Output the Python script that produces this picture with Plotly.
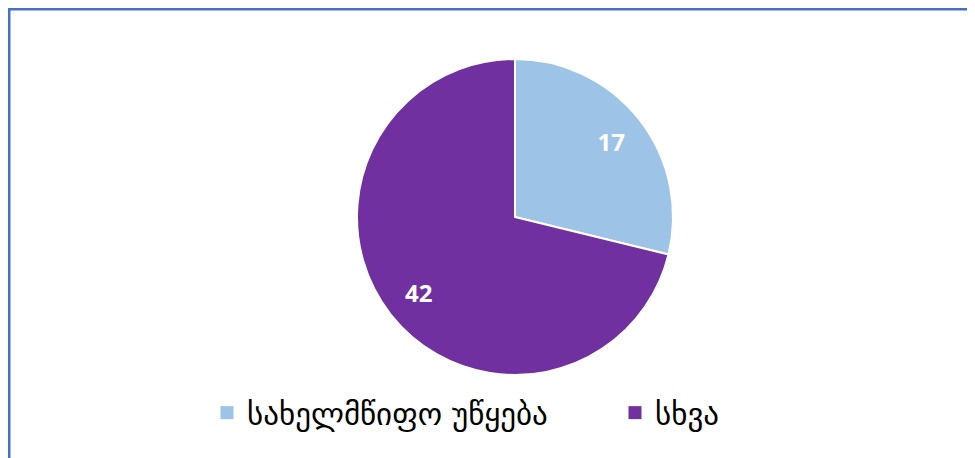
import plotly.graph_objects as go

labels = ["სახელმწიფო უწყება", "სხვა"]
values = [17, 42]
colors = ["#9DC3E6", "#7030A0"]

# page body has an 8px margin, so the figure is offset by 8px
W, H = 967, 450
cx, cy, r = 507, 209, 158
dom = dict(x=[(cx - r) / W, (cx + r) / W], y=[(H - cy - r) / H, (H - cy + r) / H])

fig = go.Figure()
fig.add_trace(go.Pie(
    labels=labels,
    values=values,
    marker=dict(colors=colors, line=dict(color="white", width=2)),
    sort=False,
    direction="clockwise",
    rotation=0,
    textinfo="none",
    domain=dom,
    showlegend=False,
    hoverinfo="label+value",
))
# transparent ring carrying the value labels (pushes them outward like the reference)
fig.add_trace(go.Pie(
    labels=labels,
    values=values,
    hole=0.55,
    marker=dict(colors=["rgba(0,0,0,0)"] * len(values), line=dict(width=0)),
    sort=False,
    direction="clockwise",
    rotation=0,
    textinfo="value",
    textposition="inside",
    insidetextorientation="horizontal",
    textfont=dict(family="Open Sans, sans-serif", size=24, color="white", weight="bold"),
    domain=dom,
    showlegend=False,
    hoverinfo="skip",
))

# legend entries (one per slice, each in its own legend box so they can be spaced apart)
legend_names = ["legend", "legend2"]
for lab, col, lg in zip(labels, colors, legend_names):
    fig.add_trace(go.Scatter(
        x=[None], y=[None], mode="markers", name=lab, legend=lg,
        marker=dict(symbol="square", size=13, color=col),
        hoverinfo="skip",
    ))

leg_font = dict(family="DejaVu Sans, sans-serif", size=31, color="#000000")
leg_y = (H - 405) / H
fig.update_layout(
    width=W, height=H,
    margin=dict(l=0, r=0, t=0, b=0),
    paper_bgcolor="white",
    plot_bgcolor="white",
    xaxis=dict(visible=False),
    yaxis=dict(visible=False),
    legend=dict(orientation="h", x=199 / W, xanchor="left", y=leg_y, yanchor="middle",
                font=leg_font, bgcolor="rgba(0,0,0,0)"),
    legend2=dict(orientation="h", x=607 / W, xanchor="left", y=leg_y, yanchor="middle",
                 font=leg_font, bgcolor="rgba(0,0,0,0)"),
    shapes=[dict(
        type="rect", xref="paper", yref="paper",
        x0=1 / W, x1=1.05, y0=-0.05, y1=1 - 1 / H,
        line=dict(color="#4472C4", width=3),
        fillcolor="rgba(0,0,0,0)",
    )],
)

fig.write_html("out.html")
